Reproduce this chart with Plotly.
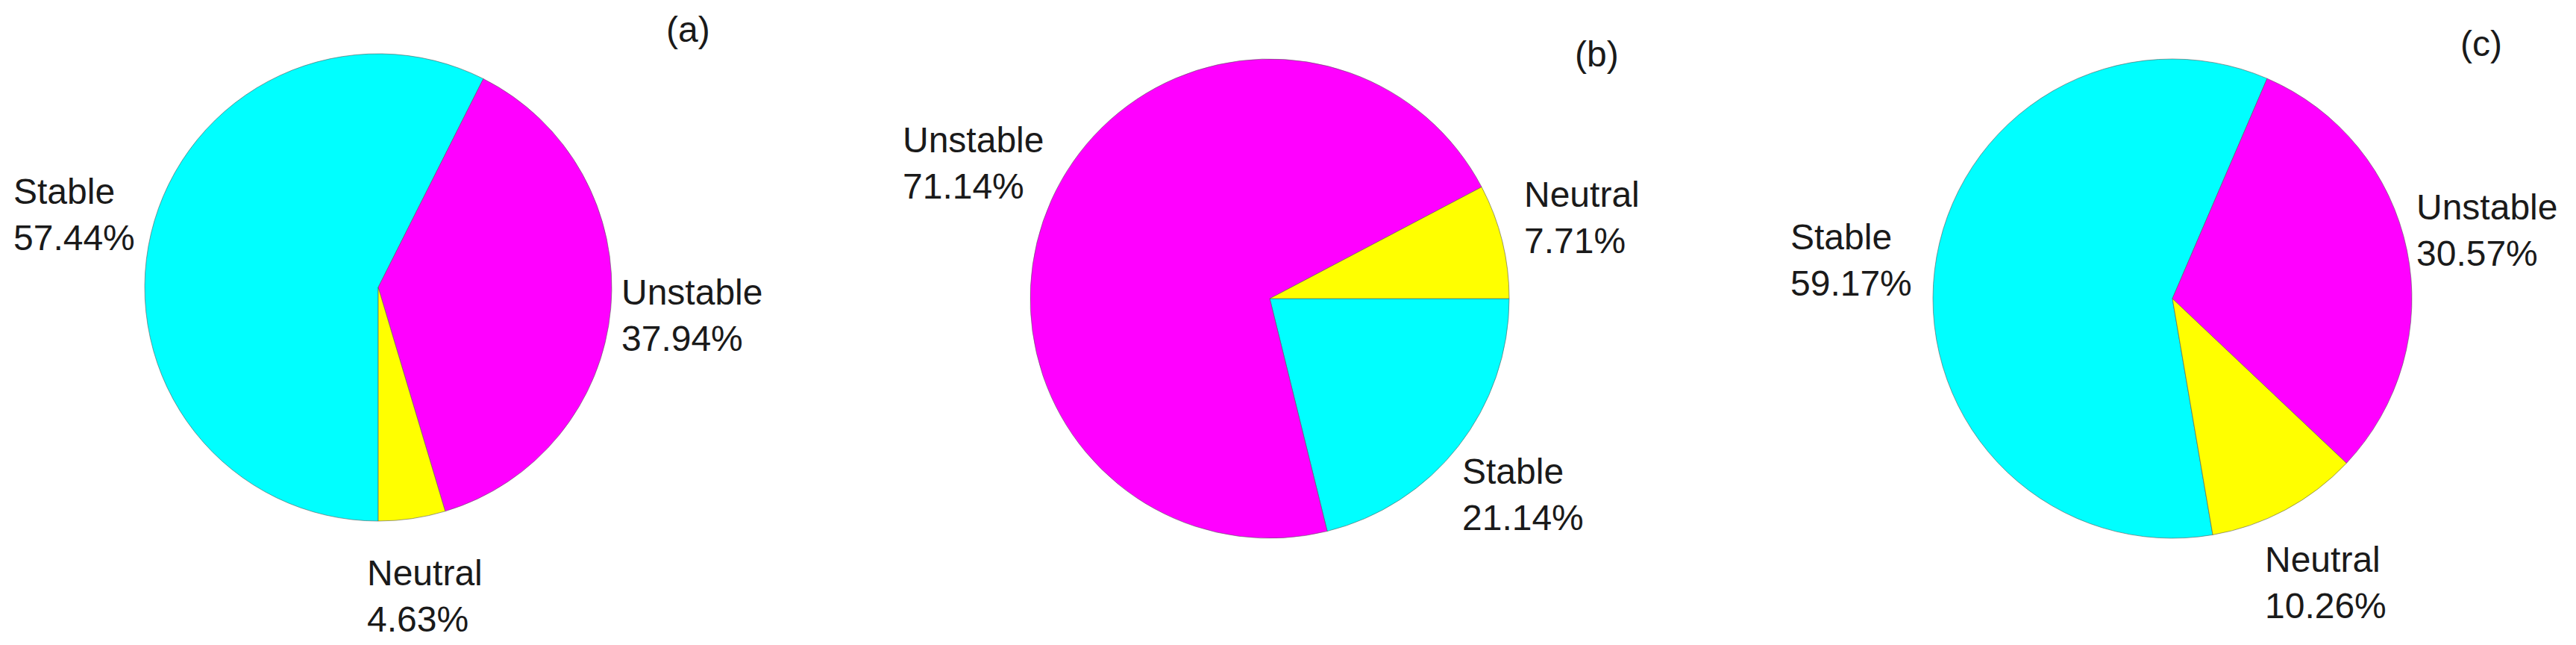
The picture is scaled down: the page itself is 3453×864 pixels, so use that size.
import plotly.graph_objects as go

W, H = 3453, 864

# slice order is clockwise from each pie's start angle
labels = ["Stable", "Unstable", "Neutral"]
values_a = [57.44, 37.94, 4.63]
values_b = [21.14, 71.14, 7.71]
values_c = [59.17, 30.57, 10.26]
panel_tags = ["(a)", "(b)", "(c)"]

colors = ["#00FFFF", "#FF00FF", "#FFFF00"]
FONT = "Liberation Sans, Arial, sans-serif"
TEXT_COLOR = "#1a1a1a"

# pixel layout: pie centre, radius, start rotation, label anchors (left x, mid y)
panels = [
    dict(values=values_a, cx=507, cy=385, r=313, rot=180,
         lab=[(16, 287), (831, 423), (490, 798)], tag=(922, 40)),
    dict(values=values_b, cx=1702, cy=400, r=321, rot=90,
         lab=[(1958, 662), (1208, 218), (2041, 291)], tag=(2140, 73)),
    dict(values=values_c, cx=2912, cy=400, r=321, rot=170.3,
         lab=[(2398, 348), (3237, 309), (3034, 780)], tag=(3326, 58)),
]


def px_x(x):
    return x / W


def px_y(y):
    return 1 - y / H


fig = go.Figure()
annotations = []

for p, tag in zip(panels, panel_tags):
    fig.add_trace(go.Pie(
        labels=labels,
        values=p["values"],
        sort=False,
        direction="clockwise",
        rotation=p["rot"],
        textinfo="none",
        hoverinfo="label+percent",
        marker=dict(colors=colors, line=dict(color="rgba(90,90,90,0.6)", width=1)),
        domain=dict(x=[px_x(p["cx"] - p["r"]), px_x(p["cx"] + p["r"])],
                    y=[px_y(p["cy"] + p["r"]), px_y(p["cy"] - p["r"])]),
        showlegend=False,
    ))
    for name, val, (lx, ly) in zip(labels, p["values"], p["lab"]):
        annotations.append(dict(
            text=f"{name}<br>{val:.2f}%", x=px_x(lx), y=px_y(ly),
            xref="paper", yref="paper", xanchor="left", yanchor="middle",
            align="left", showarrow=False,
            font=dict(family=FONT, size=48, color=TEXT_COLOR),
        ))
    annotations.append(dict(
        text=tag, x=px_x(p["tag"][0]), y=px_y(p["tag"][1]),
        xref="paper", yref="paper", xanchor="center", yanchor="middle",
        showarrow=False, font=dict(family=FONT, size=48, color=TEXT_COLOR),
    ))

fig.update_layout(
    width=W, height=H,
    margin=dict(l=0, r=0, t=0, b=0),
    paper_bgcolor="white",
    plot_bgcolor="white",
    annotations=annotations,
)

# drop the default body margin so the figure sits flush with the window
fig.write_html(
    "out.html",
    config={"displayModeBar": False},
    post_script="document.body.style.margin='0';",
)
